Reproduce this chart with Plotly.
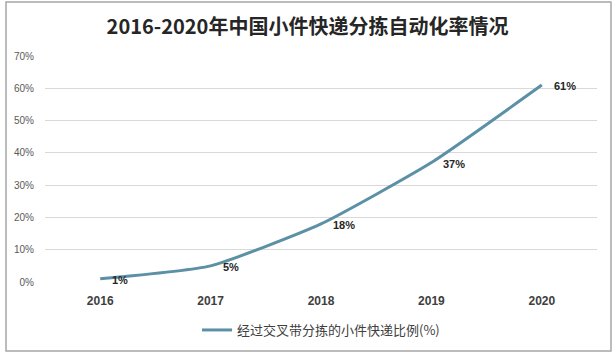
import plotly.graph_objects as go

years = ["2016", "2017", "2018", "2019", "2020"]
ratio = [1, 5, 18, 37, 61]
labels = ["1%", "5%", "18%", "37%", "61%"]
y_ticks = [0, 10, 20, 30, 40, 50, 60, 70]
y_tick_text = ["0%", "10%", "20%", "30%", "40%", "50%", "60%", "70%"]

W, H = 615, 357
L, R, T, B = 45, 18, 56, 75
pw, ph = W - L - R, H - T - B

def px_x(x):
    return (x - L) / pw

def px_y(y):
    return (H - B - y) / ph

fig = go.Figure()
fig.add_trace(go.Scatter(
    x=years, y=ratio, mode="lines",
    name="经过交叉带分拣的小件快递比例(%)",
    line=dict(color="#5B90A6", width=3, shape="spline", smoothing=0.5),
    hoverinfo="skip",
))

for i, (v, lab) in enumerate(zip(ratio, labels)):
    fig.add_annotation(x=i, y=v, xref="x", yref="y", text="<b>" + lab + "</b>", showarrow=False,
                       xanchor="left", yanchor="middle", xshift=10, yshift=-1,
                       font=dict(family="Liberation Sans, Arial", size=11, color="#262626"))

fig.update_layout(
    width=W, height=H,
    margin=dict(l=L, r=R, t=T, b=B),
    paper_bgcolor="white", plot_bgcolor="white",
    title=dict(text="<b>2016-2020年中国小件快递分拣自动化率情况</b>",
               x=0.5, xanchor="center", y=1 - 27 / H, yanchor="middle",
               font=dict(family="Noto Sans CJK SC", size=20, color="#262626")),
    xaxis=dict(type="category", showgrid=False, showline=False,
               ticks="outside", ticklen=8, tickcolor="rgba(0,0,0,0)",
               tickfont=dict(family="Liberation Sans, Arial", size=12, color="#404040", weight="bold"),
               range=[-0.5, 4.5]),
    yaxis=dict(range=[0, 70], tickvals=y_ticks, ticktext=y_tick_text,
               showgrid=True, gridcolor="#D9D9D9", gridwidth=1, zeroline=False,
               showline=False, ticks="outside", ticklen=8, tickcolor="rgba(0,0,0,0)",
               tickfont=dict(family="Liberation Sans, Arial", size=10, color="#595959")),
    showlegend=True,
    legend=dict(orientation="h", x=0.5, xanchor="center", y=px_y(330), yanchor="middle",
                font=dict(family="Noto Sans CJK SC", size=13, color="#404040"),
                itemwidth=30),
    shapes=[dict(type="rect", xref="paper", yref="paper",
                 x0=px_x(6), x1=px_x(611), y0=px_y(351), y1=px_y(2),
                 line=dict(color="#A6A6A6", width=1.5), layer="below")],
)

fig.write_html("out.html", config={"displayModeBar": False},
               post_script="document.body.style.margin='0';document.body.style.overflow='hidden';")
